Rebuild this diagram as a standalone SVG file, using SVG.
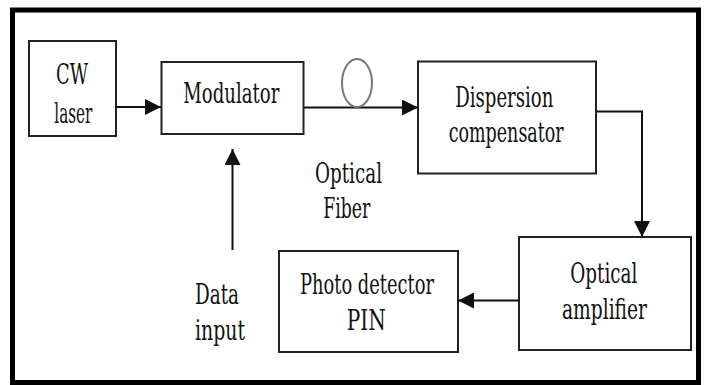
<svg xmlns="http://www.w3.org/2000/svg" width="704" height="385" viewBox="0 0 704 385">
<style>
.box{fill:#fff;stroke:#222;stroke-width:2}
.t{font-family:'DejaVu Serif Condensed','DejaVu Serif',serif;font-size:28px;fill:#111}
.c{fill:none;stroke:#111;stroke-width:2}
</style>
<defs>
<marker id="ah" viewBox="0 0 16 16" refX="16" refY="8" markerWidth="16" markerHeight="16" markerUnits="userSpaceOnUse" orient="auto">
<path d="M0,0 L16,8 L0,16 Z" fill="#111"/>
</marker>
</defs>
<rect x="0" y="0" width="704" height="385" fill="#fff"/>
<rect id="frame" x="12.5" y="10" width="686" height="372.5" fill="none" stroke="#000" stroke-width="5"/>

<g id="cw-laser">
<rect class="box" x="29" y="41" width="87" height="95"/>
<text class="t" x="56" y="84.3" textLength="32" lengthAdjust="spacingAndGlyphs">CW</text>
<text class="t" x="54.3" y="122.7" textLength="38" lengthAdjust="spacingAndGlyphs">laser</text>
</g>

<g id="modulator">
<rect class="box" x="161.5" y="62" width="142" height="72"/>
<text class="t" x="183.3" y="103" textLength="96" lengthAdjust="spacingAndGlyphs">Modulator</text>
</g>

<g id="dispersion-compensator">
<rect class="box" x="418" y="61.5" width="178" height="112"/>
<text class="t" x="455.3" y="106.7" textLength="98" lengthAdjust="spacingAndGlyphs">Dispersion</text>
<text class="t" x="448.7" y="141.7" textLength="115" lengthAdjust="spacingAndGlyphs">compensator</text>
</g>

<g id="optical-amplifier">
<rect class="box" x="519" y="237" width="172" height="113"/>
<text class="t" x="570.3" y="282.7" textLength="67" lengthAdjust="spacingAndGlyphs">Optical</text>
<text class="t" x="562" y="318.7" textLength="85" lengthAdjust="spacingAndGlyphs">amplifier</text>
</g>

<g id="photo-detector">
<rect class="box" x="279" y="251" width="179" height="101"/>
<text class="t" x="300" y="293.7" textLength="134" lengthAdjust="spacingAndGlyphs">Photo detector</text>
<text class="t" x="346.7" y="330.3" textLength="39" lengthAdjust="spacingAndGlyphs">PIN</text>
</g>

<g id="optical-fiber-label">
<text class="t" x="315" y="183.3" textLength="67" lengthAdjust="spacingAndGlyphs">Optical</text>
<text class="t" x="323.3" y="218.3" textLength="47" lengthAdjust="spacingAndGlyphs">Fiber</text>
</g>

<g id="data-input-label">
<text class="t" x="195" y="303.7" textLength="44" lengthAdjust="spacingAndGlyphs">Data</text>
<text class="t" x="195" y="340" textLength="50" lengthAdjust="spacingAndGlyphs">input</text>
</g>

<g id="connectors">
<line class="c" x1="116" y1="107" x2="161" y2="107" marker-end="url(#ah)"/>
<line class="c" x1="304" y1="107.5" x2="418" y2="107.5" marker-end="url(#ah)"/>
<ellipse cx="357" cy="83" rx="15" ry="24" fill="none" stroke="#777" stroke-width="2"/>
<path class="c" d="M596,111.5 H642 V237" marker-end="url(#ah)"/>
<line class="c" x1="519" y1="300.5" x2="458" y2="300.5" marker-end="url(#ah)"/>
<line class="c" x1="232.5" y1="250" x2="232.5" y2="149" marker-end="url(#ah)"/>
</g>
</svg>
